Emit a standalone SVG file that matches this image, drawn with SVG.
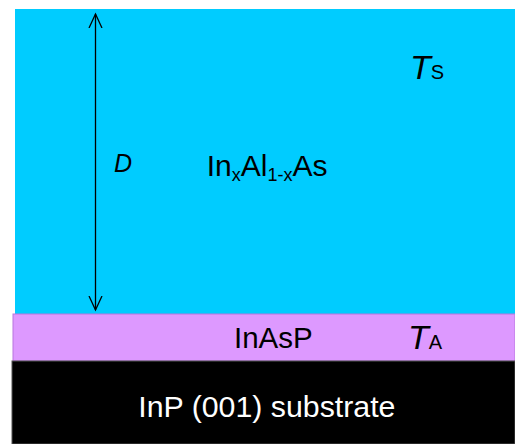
<svg xmlns="http://www.w3.org/2000/svg" width="515" height="444" viewBox="0 0 515 444">
<style>
text{font-family:"Liberation Sans",Arial,sans-serif;fill:#000}
.w{fill:#fff}
.i{font-style:italic}
</style>
<defs>
<marker id="ah" viewBox="0 0 16 16" refX="14" refY="8" markerWidth="16" markerHeight="16" markerUnits="userSpaceOnUse" orient="auto-start-reverse">
<path d="M0,1.5 L14,8 L0,14.5" fill="none" stroke="#000" stroke-width="1.3"/>
</marker>
</defs>
<rect width="515" height="444" fill="#fff"/>
<g id="layer-inalas">
<rect x="15" y="9" width="500" height="305" fill="#00CCFF"/>
<text x="206.7" y="176" font-size="30">In<tspan font-size="18" dy="5">x</tspan><tspan dy="-5">Al</tspan><tspan font-size="18" dy="5">1-x</tspan><tspan dy="-5">As</tspan></text>
<text x="410" y="79" font-size="34" class="i">T<tspan font-size="20" font-style="normal">S</tspan></text>
</g>
<g id="layer-inasp">
<rect x="13" y="314" width="502" height="47" fill="#DD99FF" stroke="#B877DD" stroke-width="1"/>
<text x="234" y="347.5" font-size="29.5">InAsP</text>
<text x="408" y="349" font-size="34" class="i">T<tspan font-size="20" font-style="normal">A</tspan></text>
</g>
<g id="layer-substrate">
<rect x="12" y="361" width="503" height="83" fill="#000" stroke="#555" stroke-width="1"/>
<text x="138.3" y="417" font-size="30.3" class="w">InP (001) substrate</text>
</g>
<g id="connectors">
<line x1="95.5" y1="14" x2="95.5" y2="310" stroke="#000" stroke-width="1.3" marker-start="url(#ah)" marker-end="url(#ah)"/>
<text x="114" y="171.5" font-size="25" class="i">D</text>
</g>
</svg>
